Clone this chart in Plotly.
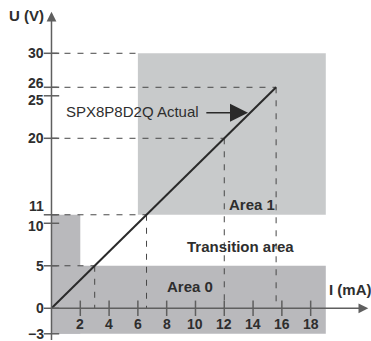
import plotly.graph_objects as go

# ---- data ---------------------------------------------------------------
# characteristic line of the sensor: current (mA) vs. voltage (V)
line_i = [0, 15.6]
line_u = [0, 26]

# guide points on the characteristic (dashed projections to both axes)
guide_i = [3.0, 6.6, 12.0, 15.6]
guide_u = [5, 11, 20, 26]

# switching areas: (i0, i1, u0, u1)
area0_low = (0, 19.05, -3, 5)
area0_step = (0, 2, -3, 11)
area1 = (6, 19.05, 11, 30)

x_ticks = [2, 4, 6, 8, 10, 12, 14, 16, 18]
y_ticks = [-3, 0, 5, 10, 11, 20, 25, 26, 30]
y_tick_labels = ["\u22123", "0", "5", "10", "11", "20", "25", "26", "30"]

# ---- styling ------------------------------------------------------------
TXT = "#2e2e2e"
AXIS = "#5f5f5f"
GUIDE = "#474747"
AREA0 = "#b9b9bc"
AREA1 = "#c8cacb"
FONT = "Liberation Sans"

# nudges to keep close tick labels (10/11, 25/26) apart
label_shift = {10: -3, 11: 9, 25: -4, 26: 4}

fig = go.Figure()

# shaded areas
shapes = []
for (i0, i1, u0, u1), col in [(area0_low, AREA0), (area0_step, AREA0), (area1, AREA1)]:
    shapes.append(dict(type="rect", xref="x", yref="y", x0=i0, x1=i1, y0=u0, y1=u1,
                       fillcolor=col, line=dict(width=0), layer="below"))

# dashed guides: horizontal to the U axis and vertical to the I axis
# the top horizontal guide runs to the corner of area 1
h_targets = list(guide_i)
h_u = list(guide_u)
h_targets.append(area1[0])
h_u.append(area1[3])
for gi, gu in zip(h_targets, h_u):
    fig.add_trace(go.Scatter(x=[0, gi], y=[gu, gu], mode="lines",
                             line=dict(color=GUIDE, width=1, dash="6px,7px"),
                             hoverinfo="skip", showlegend=False))
for gi, gu in zip(guide_i, guide_u):
    fig.add_trace(go.Scatter(x=[gi, gi], y=[gu, 0], mode="lines",
                             line=dict(color=GUIDE, width=1, dash="6px,7px"),
                             hoverinfo="skip", showlegend=False))

# characteristic line
fig.add_trace(go.Scatter(x=line_i, y=line_u, mode="lines",
                         line=dict(color="#2a2a2a", width=2),
                         hoverinfo="skip", showlegend=False))

# tick marks crossing the axes
fig.add_trace(go.Scatter(x=x_ticks, y=[0] * len(x_ticks), mode="markers",
                         marker=dict(symbol="line-ns", size=11,
                                     line=dict(color=AXIS, width=1.5)),
                         hoverinfo="skip", showlegend=False))
fig.add_trace(go.Scatter(x=[0] * len(y_ticks), y=y_ticks, mode="markers",
                         marker=dict(symbol="line-ew", size=11,
                                     line=dict(color=AXIS, width=1.5)),
                         hoverinfo="skip", showlegend=False))

ann = []
# axes drawn as arrows
ann.append(dict(x=22.0, y=0, ax=0, ay=0, xref="x", yref="y", axref="x", ayref="y",
                text="", showarrow=True, arrowhead=2, arrowsize=1.3, arrowwidth=1.5,
                arrowcolor=AXIS))
ann.append(dict(x=0, y=34.9, ax=0, ay=-3.9, xref="x", yref="y", axref="x", ayref="y",
                text="", showarrow=True, arrowhead=2, arrowsize=1.3, arrowwidth=1.5,
                arrowcolor=AXIS))

tick_font = dict(family=FONT, size=14, color=TXT)
for xt in x_ticks:
    ann.append(dict(x=xt, y=0, xref="x", yref="y", text=f"<b>{xt}</b>", showarrow=False,
                    yanchor="top", yshift=-6, font=tick_font))
for yt, lab in zip(y_ticks, y_tick_labels):
    ann.append(dict(x=0, y=yt, xref="x", yref="y", text=f"<b>{lab}</b>", showarrow=False,
                    xanchor="right", xshift=-5, yshift=label_shift.get(yt, 0),
                    font=tick_font))

big_font = dict(family=FONT, size=15, color=TXT)
ann.append(dict(x=-3.1, y=34.4, xref="x", yref="y", text="<b>U (V)</b>", showarrow=False,
                xanchor="left", font=big_font))
ann.append(dict(x=19.1, y=2.2, xref="x", yref="y", text="<b>I (mA)</b>", showarrow=False,
                xanchor="left", font=big_font))
ann.append(dict(x=9.6, y=2.6, xref="x", yref="y", text="<b>Area 0</b>", showarrow=False,
                font=big_font))
ann.append(dict(x=13.9, y=12.2, xref="x", yref="y", text="<b>Area 1</b>", showarrow=False,
                font=big_font))
ann.append(dict(x=13.1, y=7.3, xref="x", yref="y", text="<b>Transition area</b>",
                showarrow=False, font=big_font))

# product label with pointer to the characteristic
ann.append(dict(x=0.9, y=23.2, xref="x", yref="y", text="SPX8P8D2Q Actual",
                showarrow=False, xanchor="left",
                font=dict(family=FONT, size=15, color=TXT)))
ann.append(dict(x=13.65, y=23.0, ax=10.65, ay=23.0, xref="x", yref="y", axref="x", ayref="y",
                text="", showarrow=True, arrowhead=2, arrowsize=2.4, arrowwidth=1.5,
                arrowcolor="#2a2a2a"))

fig.update_layout(
    width=371, height=341,
    margin=dict(l=0, r=0, t=0, b=0),
    paper_bgcolor="white", plot_bgcolor="white",
    shapes=shapes, annotations=ann,
    xaxis=dict(range=[-3.576, 22.19], visible=False, fixedrange=True),
    yaxis=dict(range=[-3.85, 36.27], visible=False, fixedrange=True),
    showlegend=False,
)

fig.write_html("out.html")
